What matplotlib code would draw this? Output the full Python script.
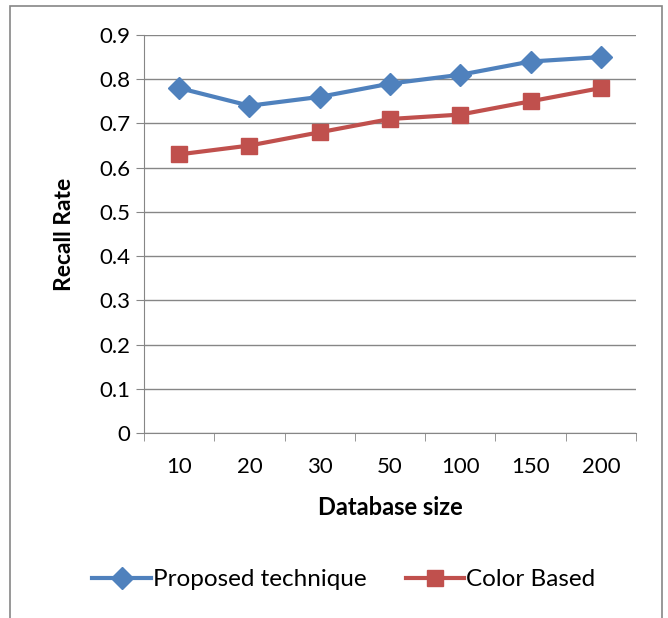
# recall rate vs database size line chart
import matplotlib.pyplot as plt
from matplotlib.patches import Rectangle
import numpy as np

# data
sizes = ['10', '20', '30', '50', '100', '150', '200']
proposed = [0.78, 0.74, 0.76, 0.79, 0.81, 0.84, 0.85]
color_based = [0.63, 0.65, 0.68, 0.71, 0.72, 0.75, 0.78]
y_ticks = [0, 0.1, 0.2, 0.3, 0.4, 0.5, 0.6, 0.7, 0.8, 0.9]

plt.rcParams['font.family'] = ['Lato', 'DejaVu Sans']

fig = plt.figure(figsize=(6.68, 6.18), dpi=100)
ax = fig.add_axes([0.2156, 0.2994, 0.7365, 0.644])

x = np.arange(len(sizes))
ax.plot(x, proposed, color='#4F81BD', lw=3, marker='D', ms=11,
        label='Proposed technique', zorder=3)
ax.plot(x, color_based, color='#C0504D', lw=3, marker='s', ms=12,
        label='Color Based', zorder=3)

# axes and grid like the excel style
ax.set_xlim(-0.5, len(sizes) - 0.5)
ax.set_ylim(0, 0.9)
ax.set_yticks(y_ticks)
ax.set_yticklabels(['0'] + ['%.1f' % v for v in y_ticks[1:]])
ax.set_xticks(x)
ax.set_xticklabels(sizes)
ax.set_xticks(np.arange(len(sizes) + 1) - 0.5, minor=True)
ax.tick_params(axis='x', which='major', length=0, pad=17, labelsize=16)
ax.tick_params(axis='x', which='minor', length=6, color='#868686', direction='out')
ax.tick_params(axis='y', length=6, color='#868686', labelsize=16, pad=4)
ax.grid(axis='y', color='#868686', lw=1)
ax.set_axisbelow(True)
for side in ['top', 'right']:
    ax.spines[side].set_visible(False)
for side in ['left', 'bottom']:
    ax.spines[side].set_color('#868686')

ax.set_xlabel('Database size', fontsize=17, fontweight='bold', labelpad=14)
ax.set_ylabel('Recall Rate', fontsize=16.5, fontweight='bold', labelpad=17)

# legend at bottom
fig.legend(loc='center', bbox_to_anchor=(0.515, 0.062), ncol=2, frameon=False,
           fontsize=17.5, handlelength=2.4, columnspacing=1.6, handletextpad=0.1)

# outer frame of the chart
fig.patches.append(Rectangle((0.015, -0.05), 0.976, 1.04, transform=fig.transFigure,
                             fill=False, edgecolor='#868686', lw=1.2))

plt.savefig('out.png', dpi=100)
